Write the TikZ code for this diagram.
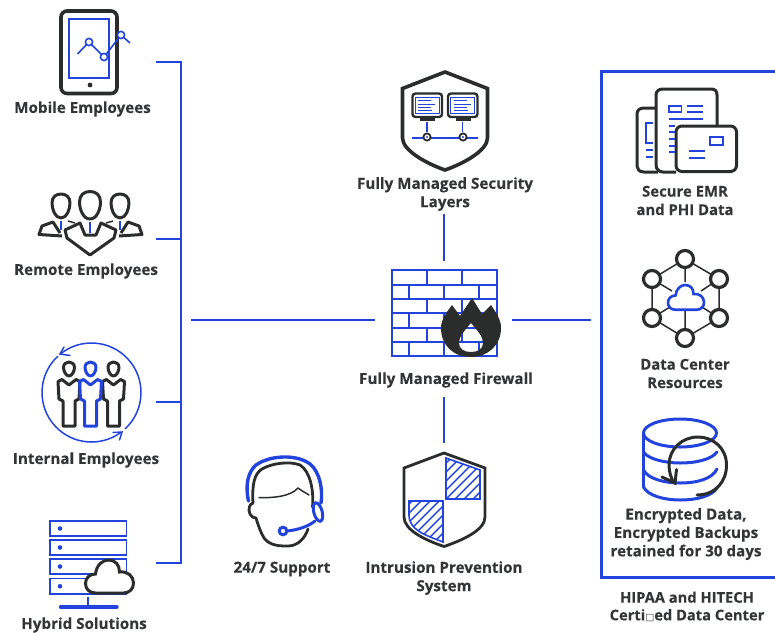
\documentclass[tikz,border=0pt]{standalone}
\usepackage{fontspec}
\setmainfont{Open Sans}[BoldFont={Open Sans Bold},BoldFeatures={FakeBold=0.25}]
\newfontfamily\boxfont{DejaVu Sans}
\usetikzlibrary{calc}
\definecolor{bl}{HTML}{2244DD}
\definecolor{dk}{HTML}{2B2D2D}
\definecolor{tx}{HTML}{333536}
\newcommand{\cloudshape}{(10,33) .. controls (4,33) and (0,29) .. (0,23.5) .. controls (0,18) and (4,14) .. (10,14) .. controls (11,5) and (17,0) .. (23,0) .. controls (30,0) and (34,5) .. (34,12) .. controls (42,11) and (48,16) .. (48,23) .. controls (48,29) and (44,33) .. (38,33) -- cycle}
\newcommand{\person}[3]{%
 \begin{scope}[shift={(#1,362)},draw=#2,line width=#3,line join=round]
  \draw (0,14) .. controls (-3,14) and (-5.5,9) .. (-5.5,5.5) .. controls (-5.5,2) and (-3,0) .. (0,0) .. controls (3,0) and (5.5,2) .. (5.5,5.5) .. controls (5.5,9) and (3,14) .. (0,14) -- cycle;
  \draw (0,23) -- (-7,17.5) -- (-11,19.5) -- (-10,37) -- (-6,39) -- (-6,64) -- (6,64) -- (6,39) -- (10,37) -- (11,19.5) -- (7,17.5) -- cycle;
 \end{scope}}
\newcommand{\monitor}[1]{%
 \begin{scope}[shift={(#1,0)}]
  \draw[dk,line width=2.4,rounded corners=3] (412.5,93.5) rectangle (442,117);
  \draw[bl,line width=1] (415,97) rectangle (439,113);
  \draw[bl,line width=.9] (418,100.5) -- (431,100.5) (418,104) -- (435,104) (418,107) -- (431,107) (418,110.5) -- (432,110.5);
  \draw[dk,line width=2.2] (420,119.5) -- (435,119.5);
 \end{scope}}
\newcommand{\netnode}[1]{\draw[dk,line width=3.2,fill=white] (#1) circle[radius=8.5pt];}
\tikzset{
 lbl/.style={font=\fontsize{15.2}{18.4}\selectfont\bfseries,text=tx,align=center,inner sep=0pt},
 conn/.style={draw=bl,line width=1.6},
 blue/.style={draw=bl},
 dark/.style={draw=dk}
}
\begin{document}
\begin{tikzpicture}[x=1pt,y=-1pt]
\useasboundingbox (0,0) rectangle (775,632);
% labels
\node[lbl] (tMobile) at (82.5,109) {Mobile Employees};
\node[lbl] (tRemote) at (86,271) {Remote Employees};
\node[lbl] (tInternal) at (86,460) {Internal Employees};
\node[lbl] (tHybrid) at (84,625) {Hybrid Solutions};
\node[lbl] (tSec) at (445,194) {Fully Managed Security\\Layers};
\node[lbl] (tFw) at (446,380) {Fully Managed Firewall};
\node[lbl] (tSup) at (282,569) {24/7 Support};
\node[lbl] (tIps) at (444,578) {Intrusion Prevention\\System};
\node[lbl,font=\fontsize{14.9}{18.4}\selectfont\bfseries] (tEmr) at (685,200.5) {Secure EMR\\and PHI Data};
\node[lbl,font=\fontsize{14.9}{18.4}\selectfont\bfseries] (tDc) at (685,373.5) {Data Center\\Resources};
\node[lbl] (tEnc) at (686,534) {Encrypted Data,\\Encrypted Backups\\retained for 30 days};
\node[lbl,font=\fontsize{14.7}{17.6}\selectfont\bfseries] (tHip) at (687,606.5) {HIPAA and HITECH\\Certi{\boxfont\fontsize{9.5}{9}\selectfont □}ed Data Center};
% connectors
\coordinate (a1) at (156,62); \coordinate (a2) at (156,239); \coordinate (a3) at (156,402); \coordinate (a4) at (156,563);
\coordinate (b1) at (181,62); \coordinate (b2) at (181,239); \coordinate (b3) at (181,402); \coordinate (b4) at (181,563);
\coordinate (c1) at (191,320); \coordinate (c2) at (375,320); \coordinate (c3) at (512,320); \coordinate (c4) at (591,320);
\coordinate (d1) at (444,214); \coordinate (d2) at (444,261); \coordinate (d3) at (444,397); \coordinate (d4) at (444,443);
\draw[conn,line join=miter] (a1) -- (b1) -- (b4) -- (a4);
\draw[conn] (a2) -- (b2) (a3) -- (b3);
\draw[conn] (c1) -- (c2) (c3) -- (c4) (d1) -- (d2) (d3) -- (d4);
% data-center frame
\draw[bl,line width=3] (775,71) -- (601,71) -- (601,577) -- (775,577);
% tablet
\draw[dk,line width=3.6,rounded corners=6] (61,11) rectangle (117,93.5);
\draw[bl,line width=1.6] (69,19) rectangle (109,78);
\fill[dk] (90,85) circle[radius=2.4pt];
\draw[bl,line width=1.6] (77.5,54) -- (89,42) -- (104,57) -- (121,35) -- (130,43);
\foreach \p in {(89,42),(104,57),(121,35)} \draw[bl,line width=1.6,fill=white] \p circle[radius=3.6pt];
% remote employees
\begin{scope}[dk,line width=3,line join=round]
 \draw (61,218) .. controls (55,218) and (52,209) .. (52,203) .. controls (52,197) and (56,194) .. (61,194) .. controls (66,194) and (70,197) .. (70,203) .. controls (70,209) and (67,218) .. (61,218) -- cycle;
 \draw (120,218) .. controls (114,218) and (111,209) .. (111,203) .. controls (111,197) and (115,194) .. (120,194) .. controls (125,194) and (129,197) .. (129,203) .. controls (129,209) and (126,218) .. (120,218) -- cycle;
 \draw (90,219) .. controls (83,219) and (79.5,209) .. (79.5,202) .. controls (79.5,195) and (84,191.5) .. (90,191.5) .. controls (96,191.5) and (100.5,195) .. (100.5,202) .. controls (100.5,209) and (97,219) .. (90,219) -- cycle;
 \draw (65,230) -- (80,223) -- (85,235) -- (96,235) -- (101,223) -- (116,230) -- (114,238) -- (90,255) -- (67,238) -- cycle;
 \draw (62,236) -- (39,234.5) -- (42,226) -- (53,222) -- (60,233);
 \draw (119,236) -- (142,234.5) -- (139,226) -- (128,222) -- (121,233);
 \draw[line width=1.5] (68,221) -- (75,223) (113,221) -- (106,223);
\end{scope}
\draw[bl,line width=2.6] (61,221) -- (61,230) (90,222) -- (90,233) (120,221) -- (120,230);
% internal employees
\begin{scope}[shift={(91.5,392.5)},bl,line width=1.5,line cap=round]
 \draw (-47:49.5pt) arc[start angle=-47,end angle=129,radius=49.5pt];
 \draw (133:49.5pt) arc[start angle=133,end angle=306,radius=49.5pt];
\end{scope}
\draw[bl,line width=1.5,line cap=round,line join=miter] (64,347) -- (60,354) -- (70,355.5);
\draw[bl,line width=1.5,line cap=round,line join=miter] (113,432.5) -- (122,432) -- (119.5,440);
\person{69}{dk}{3}
\person{113.5}{dk}{3}
\person{90.5}{bl}{3}
% hybrid
\foreach \yy/\hh in {521/536,540/555,559/574,578.5/594}{
 \draw[bl,line width=1.6] (50,\yy) rectangle (126.5,\hh);
 \fill[bl] (60,{(\yy+\hh)/2}) circle[radius=2.3pt];}
\draw[bl,line width=2.4] (88,597) -- (88,607);
\draw[bl,line width=3.4,line cap=round] (60.5,607) -- (117,607);
\begin{scope}[shift={(85.5,560)}]
 \draw[dk,line width=3,fill=white] \cloudshape;
\end{scope}
% security shield
\draw[dk,line width=3.6,line join=miter] (445,72) -- (402.5,88.5) -- (402.5,138) .. controls (402.5,150) and (425,163) .. (445,170) .. controls (465,163) and (487.5,150) .. (487.5,138) -- (487.5,88.5) -- cycle;
\monitor{0}
\monitor{35.5}
\draw[bl,line width=1.2] (412,138) -- (478,138) (427,122) -- (427,132) (462.5,122) -- (462.5,132);
\foreach \xx in {427,463}{
 \draw[dk,line width=1.8,fill=white] (\xx,137) circle[radius=3.6pt];
 \fill[bl] (\xx,137) circle[radius=1.2pt];}
% firewall
\begin{scope}[bl,line width=1.4]
 \draw (392,270) rectangle (497,356);
 \foreach \yy in {285,299,313,328,342} \draw (392,\yy) -- (497,\yy);
 \foreach \yy/\zz in {270/285,299/313,328/342} \draw (427,\yy) -- (427,\zz) (462,\yy) -- (462,\zz);
 \foreach \yy/\zz in {285/299,313/328,342/356} \draw (409,\yy) -- (409,\zz) (444,\yy) -- (444,\zz) (479,\yy) -- (479,\zz);
\end{scope}
\fill[dk,even odd rule] (472,298) -- (482,314) -- (491,305) .. controls (497,314) and (501,320) .. (501,328) .. controls (501,345) and (488,357) .. (471,357) .. controls (453,357) and (441,345) .. (441,328) .. controls (441,320) and (446,313) .. (452,305) -- (460,316) -- cycle
 (471,323) .. controls (478,331) and (483,337) .. (483,343) .. controls (483,349) and (478,352) .. (471,352) .. controls (464,352) and (459,349) .. (459,343) .. controls (459,337) and (464,331) .. (471,323) -- cycle;
% support head
\begin{scope}[dk,line width=2.8,line cap=round,line join=round]
 \draw (253,503) .. controls (252,485) and (254,474) .. (262,469) .. controls (272,463) and (290,461) .. (300,465) .. controls (310,471) and (314,490) .. (312.5,507);
 \draw (253,503) .. controls (249,504) and (248,510) .. (250,514) .. controls (251,517) and (254,518) .. (256,518) .. controls (258,525) and (261,533) .. (264,538) .. controls (270,546) and (280,546) .. (288,546) .. controls (298,546) and (305,538) .. (308,529);
 \draw[line width=1.5] (259,497.5) .. controls (272,498) and (290,497) .. (298,488) .. controls (302,491) and (306,493) .. (309,495);
\end{scope}
\begin{scope}[bl,line cap=round]
 \draw[line width=3.4] (248.5,501) .. controls (245,485) and (248,472) .. (256,465) .. controls (270,455) and (297,454) .. (310,464) .. controls (320,472) and (323,490) .. (321,503);
 \draw[line width=3,rotate around={15:(318,512)}] (318,512) ellipse[x radius=4.2pt,y radius=9.5pt];
 \draw[line width=3] (287,531) .. controls (298,530) and (309,526) .. (315,521);
 \draw[line width=3] (283,531) circle[radius=3.8pt];
\end{scope}
% IPS shield
\begin{scope}
 \clip (446,458) -- (480,470) -- (480,499) -- (446,499) -- cycle;
 \foreach \k in {-54,-45,...,54} \draw[bl,line width=1.4] ({440+\k},505) -- ({440+\k+50},455);
\end{scope}
\begin{scope}
 \clip (409,501) -- (443,501) -- (443,542) .. controls (425,535) and (409,530) .. (409,515) -- cycle;
 \foreach \k in {0,9,...,90} \draw[bl,line width=1.4] ({405+\k-40},548) -- ({405+\k+10},498);
\end{scope}
\draw[bl,line width=1.6] (446,458) -- (480,470) -- (480,499) -- (446,499) -- cycle;
\draw[bl,line width=1.6] (409,501) -- (443,501) -- (443,542) .. controls (425,535) and (409,530) .. (409,515) -- cycle;
\draw[dk,line width=2.8,line join=miter] (444,453) -- (404,468) -- (404,517) .. controls (404,530) and (425,540) .. (444,546.5) .. controls (463,540) and (485,530) .. (485,517) -- (485,468) -- cycle;
% EMR docs
\begin{scope}[dk,line width=3,line join=round]
 \draw (658,172) -- (644,172) .. controls (639,172) and (637,169) .. (637,166) -- (637,114) .. controls (637,110) and (640,108) .. (644,108) -- (656,108);
 \draw (676,172) -- (663,172) .. controls (659,172) and (656,169) .. (656,165) -- (656,95) .. controls (656,91) and (659,89) .. (663,89) -- (711,89) .. controls (715,89) and (717,91) .. (717,95) -- (717,126);
 \draw[fill=white,rounded corners=6] (676,126) rectangle (736.5,171.5);
\end{scope}
\begin{scope}[bl,line width=1.3]
 \draw (669,106) rectangle (681.5,112);
 \draw (687,106) -- (703,106) (687,112) -- (703,112) (669,119) -- (703,119);
 \foreach \yy in {126,132,139,146,152} \draw (669,\yy) -- (675,\yy);
 \draw (653,123) -- (646,123) -- (646,143) -- (653,143);
 \draw (646,150) -- (653,150) (646,157) -- (653,157);
 \draw (710,137) rectangle (723,145);
 \draw (689,151) -- (705,151) (689,158) -- (705,158);
\end{scope}
% network
\coordinate (nT) at (685,259); \coordinate (nUL) at (652,279); \coordinate (nUR) at (719,279);
\coordinate (nLL) at (652,318); \coordinate (nLR) at (719,318); \coordinate (nB) at (685,338);
\begin{scope}[dk,line width=1.5]
 \draw (nT) -- (nUL) -- (nLL) -- (nB) -- (nLR) -- (nUR) -- cycle;
 \draw (nT) -- (685,282) (nB) -- (685,311) (nUL) -- (672,291) (nUR) -- (701,291) (nLL) -- (670,307) (nLR) -- (702,307);
\end{scope}
\begin{scope}[shift={(668,285)},scale=.75]
 \draw[bl,line width=2.6,fill=white] \cloudshape;
\end{scope}
\netnode{nT}\netnode{nUL}\netnode{nUR}\netnode{nLL}\netnode{nLR}\netnode{nB}
% database
\begin{scope}[bl,line width=3,line cap=round]
 \draw (680,433) ellipse[x radius=36.5pt,y radius=14pt];
 \draw (643.5,433) -- (643.5,487);
 \draw (643.5,487) .. controls (648,496) and (665,500) .. (680,500) .. controls (697,500) and (712,496) .. (717,488);
 \draw (643.5,452) .. controls (648,459) and (665,463) .. (680,463) .. controls (697,463) and (712,459) .. (717,452);
 \draw (643.5,470) .. controls (648,479) and (665,483) .. (680,483) .. controls (697,483) and (712,479) .. (717,469);
\end{scope}
\begin{scope}[dk,line width=3,line cap=round,line join=miter]
 \draw (697,495) .. controls (715,495) and (726.5,482) .. (726.5,465) .. controls (726.5,448) and (713,437) .. (698,437) .. controls (682,437) and (669,449) .. (669,465) .. controls (669,472) and (671,478) .. (674,483);
 \draw (662,477) -- (675,483) -- (676.5,469.5);
\end{scope}
\end{tikzpicture}
\end{document}
